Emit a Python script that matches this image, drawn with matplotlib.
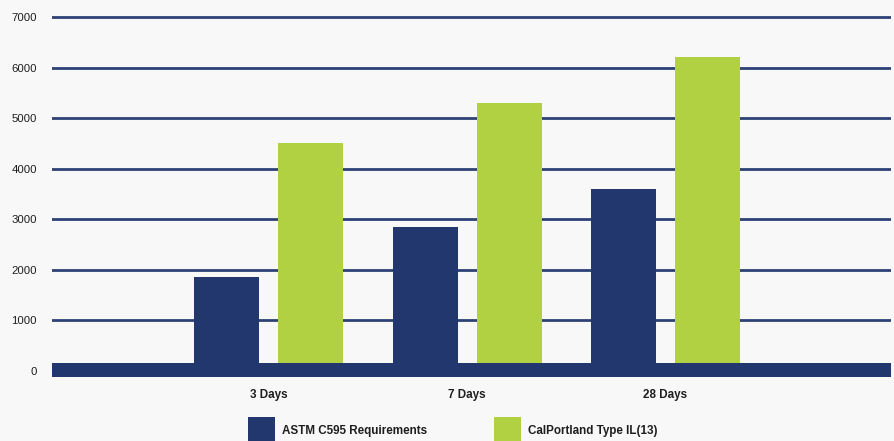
import matplotlib
matplotlib.use("Agg")
import matplotlib.pyplot as plt
from matplotlib.patches import Rectangle
import numpy as np

categories = ["3 Days", "7 Days", "28 Days"]
series_names = ["ASTM C595 Requirements", "CalPortland Type IL(13)"]
astm = [1850, 2850, 3600]
calportland = [4500, 5300, 6200]
yticks = [0, 1000, 2000, 3000, 4000, 5000, 6000, 7000]

BLUE = "#22376E"
GREEN = "#B2D142"
BG = "#F8F8F8"
TXT = "#1E1E1E"

W, H = 894, 441
fig = plt.figure(figsize=(W / 100, H / 100), dpi=100, facecolor=BG)
ax = fig.add_axes([52 / W, (H - 377.6) / H, (891 - 52) / W, 363.6 / H])
ax.set_facecolor(BG)

x = np.arange(len(categories))
bw = 65 / 198.5
off = 42 / 198.5

# gridlines
for v in yticks[1:]:
    ax.axhline(v, color=BLUE, lw=2.0, zorder=1, alpha=0.95)

ax.bar(x - off, astm, width=bw, color=BLUE, zorder=2, linewidth=0)
ax.bar(x + off, calportland, width=bw, color=GREEN, zorder=2, linewidth=0)

# baseline band
ax.axhspan(-129, 149, color=BLUE, zorder=3, lw=0)

ax.set_xlim(-1.0907, 3.136)
ax.set_ylim(-140, 7060)

for s in ax.spines.values():
    s.set_visible(False)

ax.set_yticks(yticks)
ax.set_yticklabels([str(v) for v in yticks], fontsize=8.2, color=TXT,
                   family="Liberation Sans")
ax.tick_params(axis="y", length=0, pad=11)
ax.set_xticks(x)
ax.set_xticklabels(categories, fontsize=8.4, fontweight="bold", color=TXT,
                   family="Liberation Sans")
ax.tick_params(axis="x", length=0, pad=8)

# legend (manual)
colors = [BLUE, GREEN]
sq_x = [248, 494]
for name, c, sx in zip(series_names, colors, sq_x):
    fig.add_artist(Rectangle((sx / W, (H - 444) / H), 27 / W, 27 / H,
                             transform=fig.transFigure, color=c, lw=0))
    fig.text((sx + 34) / W, (H - 431) / H, name, fontsize=8.4,
             fontweight="bold", color=TXT, va="center", ha="left",
             family="Liberation Sans")

fig.savefig("out.png", dpi=100, facecolor=BG)
